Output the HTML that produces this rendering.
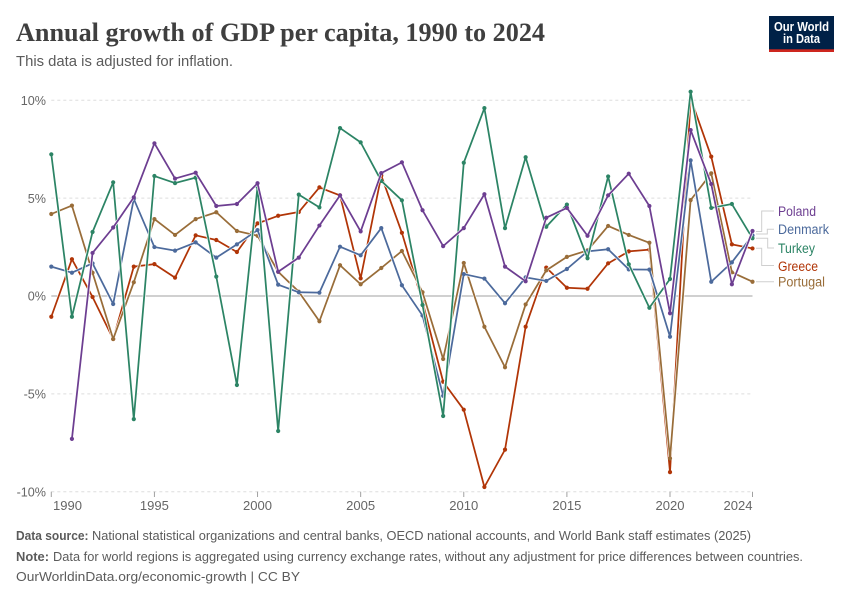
<!DOCTYPE html>
<html lang="en">
<head>
<meta charset="utf-8">
<title>Annual growth of GDP per capita, 1990 to 2024</title>
<style>
  html, body { margin: 0; padding: 0; background: #fff; }
  body { width: 850px; height: 600px; overflow: hidden; }
  svg { display: block; font-family: "Liberation Sans", sans-serif; }
</style>
</head>
<body>
<svg id="chart" xmlns="http://www.w3.org/2000/svg" width="850" height="600" viewBox="0 0 850 600">
  <rect x="0" y="0" width="850" height="600" fill="#ffffff"/>
  <text x="16" y="41" font-family="'Liberation Serif', serif" font-weight="700" font-size="26" fill="#3f3f3f" textLength="529" lengthAdjust="spacingAndGlyphs">Annual growth of GDP per capita, 1990 to 2024</text>
  <text x="16" y="66" font-size="14.5" fill="#5b5b5b" textLength="217" lengthAdjust="spacingAndGlyphs">This data is adjusted for inflation.</text>

  <g>
    <rect x="769" y="16" width="65" height="36" fill="#002147"/>
    <rect x="769" y="49.3" width="65" height="2.7" fill="#ce261e"/>
    <text x="774" y="31" font-size="12.5" font-weight="700" fill="#ffffff" textLength="55" lengthAdjust="spacingAndGlyphs">Our World</text>
    <text x="783" y="43" font-size="12.5" font-weight="700" fill="#ffffff" textLength="37" lengthAdjust="spacingAndGlyphs">in Data</text>
  </g>

  <g id="grid"></g>
  <g id="xaxis"></g>
  <g id="yaxis"></g>
  <g id="series"></g>

  <g fill="none" stroke="#cfcfcf" stroke-width="1">
    <path d="M756 231.5H761.7V211H774"/>
    <path d="M756 234H767.3V229.3H774"/>
    <path d="M756 238.3H767.7V248H774"/>
    <path d="M756 248.3H761.7V265.5H774"/>
    <path d="M756 281.7H774"/>
    <g stroke="none" font-size="13.5">
      <text x="778" y="215.8" fill="#6d3e91" textLength="38" lengthAdjust="spacingAndGlyphs">Poland</text>
      <text x="778" y="234.2" fill="#4c6a9c" textLength="51" lengthAdjust="spacingAndGlyphs">Denmark</text>
      <text x="778" y="252.8" fill="#2c8465" textLength="37" lengthAdjust="spacingAndGlyphs">Turkey</text>
      <text x="778" y="270.8" fill="#b13507" textLength="40" lengthAdjust="spacingAndGlyphs">Greece</text>
      <text x="778" y="286.3" fill="#996d39" textLength="47" lengthAdjust="spacingAndGlyphs">Portugal</text>
    </g>
  </g>

  <g font-size="13" fill="#5b5b5b">
    <text x="16" y="540" font-weight="700" textLength="72.5" lengthAdjust="spacingAndGlyphs">Data source:</text>
    <text x="92" y="540" textLength="659" lengthAdjust="spacingAndGlyphs">National statistical organizations and central banks, OECD national accounts, and World Bank staff estimates (2025)</text>
    <text x="16" y="561" font-weight="700" textLength="33" lengthAdjust="spacingAndGlyphs">Note:</text>
    <text x="53" y="561" textLength="750" lengthAdjust="spacingAndGlyphs">Data for world regions is aggregated using currency exchange rates, without any adjustment for price differences between countries.</text>
    <text x="16" y="581" textLength="284" lengthAdjust="spacingAndGlyphs">OurWorldinData.org/economic-growth | CC BY</text>
  </g>
</svg>
<script>
const startYear = 1990;
const endYear = 2024;
const xTicks = [1990, 1995, 2000, 2005, 2010, 2015, 2020, 2024];
const yTicks = [-10, -5, 0, 5, 10];
const yTickLabels = ["-10%", "-5%", "0%", "5%", "10%"];

const greece = [-1.06, 1.88, -0.05, -2.2, 1.5, 1.63, 0.94, 3.1, 2.86, 2.25, 3.71, 4.1, 4.29, 5.55, 5.14, 0.9, 6.15, 3.23, -0.3, -4.38, -5.81, -9.76, -7.85, -1.57, 1.45, 0.42, 0.37, 1.67, 2.28, 2.37, -9.0, 10.1, 7.12, 2.64, 2.43];
const portugal = [4.19, 4.62, 1.19, -2.2, 0.7, 3.93, 3.12, 3.93, 4.28, 3.32, 3.08, 1.24, 0.22, -1.29, 1.57, 0.6, 1.43, 2.3, 0.19, -3.22, 1.69, -1.57, -3.64, -0.43, 1.31, 2.0, 2.33, 3.58, 3.12, 2.72, -8.3, 4.9, 6.27, 1.21, 0.73];
const denmark = [1.5, 1.19, 1.67, -0.41, 4.96, 2.5, 2.32, 2.74, 1.96, 2.64, 3.37, 0.58, 0.19, 0.17, 2.52, 2.08, 3.47, 0.55, -1.0, -5.1, 1.12, 0.89, -0.37, 0.95, 0.77, 1.38, 2.28, 2.39, 1.36, 1.35, -2.08, 6.93, 0.73, 1.72, 3.1];
const turkey = [7.24, -1.06, 3.27, 5.81, -6.29, 6.13, 5.77, 6.05, 0.99, -4.55, 5.59, -6.9, 5.18, 4.53, 8.58, 7.85, 5.88, 4.89, -0.46, -6.13, 6.81, 9.6, 3.47, 7.09, 3.54, 4.67, 1.93, 6.11, 1.62, -0.6, 0.87, 10.44, 4.5, 4.7, 2.95];
const poland = [null, -7.3, 2.2, 3.5, 5.04, 7.8, 6.0, 6.3, 4.6, 4.7, 5.76, 1.24, 1.96, 3.6, 5.14, 3.3, 6.28, 6.83, 4.38, 2.55, 3.47, 5.2, 1.5, 0.75, 4.0, 4.5, 3.08, 5.14, 6.25, 4.6, -0.88, 8.48, 5.72, 0.6, 3.32];

const seriesNames = ["greece", "portugal", "denmark", "turkey", "poland"];
const seriesValues = [greece, portugal, denmark, turkey, poland];
const seriesColors = ["#b13507", "#996d39", "#4c6a9c", "#2c8465", "#6d3e91"];

const NS = "http://www.w3.org/2000/svg";
const plotLeft = 51.3, plotRight = 752.5, zeroY = 296, pxPerUnit = 19.57;
function xScale(year) {
  return plotLeft + (year - startYear) * (plotRight - plotLeft) / (endYear - startYear);
}
function yScale(value) {
  return zeroY - value * pxPerUnit;
}
function make(tag, attrs, parent) {
  const el = document.createElementNS(NS, tag);
  for (const k in attrs) el.setAttribute(k, attrs[k]);
  parent.appendChild(el);
  return el;
}

const gridGroup = document.getElementById("grid");
const yAxisGroup = document.getElementById("yaxis");
yTicks.forEach(function (t, i) {
  const line = make("line", { x1: plotLeft, x2: plotRight, y1: yScale(t), y2: yScale(t), stroke: t === 0 ? "#a1a1a1" : "#dddddd", "stroke-width": 1, "stroke-dasharray": t === 0 ? "none" : "3 3" }, gridGroup);
  
  
  const label = make("text", { x: 46, y: yScale(t) + 4.6, "text-anchor": "end", "font-size": 12.6, fill: "#666666" }, yAxisGroup);
  label.textContent = yTickLabels[i];
  
  
});

const xAxisGroup = document.getElementById("xaxis");
xTicks.forEach(function (year, i) {
  const x = xScale(year);
  const tick = make("line", { x1: x, x2: x, y1: 491.7, y2: 497, stroke: "#a1a1a1", "stroke-width": 1 }, xAxisGroup);
  
  
  const first = i === 0, last = i === xTicks.length - 1;
  const label = make("text", { x: first ? x + 1.7 : x, y: 510, "text-anchor": first ? "start" : (last ? "end" : "middle"), "font-size": 12.6, fill: "#666666", textLength: 29, lengthAdjust: "spacingAndGlyphs" }, xAxisGroup);
  label.textContent = String(year);
  
  
});

const seriesGroup = document.getElementById("series");
seriesValues.forEach(function (values, s) {
  const group = make("g", {}, seriesGroup);
  
  
  const pts = [];
  values.forEach(function (v, i) {
    if (v !== null) pts.push([xScale(startYear + i), yScale(v)]);
  });
  const d = pts.map(function (p, i) { return (i ? "L" : "M") + p[0].toFixed(2) + " " + p[1].toFixed(2); }).join("");
  const halo = make("path", { d: d, fill: "none", stroke: "#ffffff", "stroke-width": 3, "stroke-linejoin": "round" }, group);
  
  
  const line = make("path", { d: d, fill: "none", stroke: seriesColors[s], "stroke-width": 1.75, "stroke-linejoin": "round" }, group);
  
  
  pts.forEach(function (p) {
    const dot = make("circle", { cx: p[0], cy: p[1], r: 2.1, fill: seriesColors[s] }, group);
    
    
  });
});
</script>
</body>
</html>
